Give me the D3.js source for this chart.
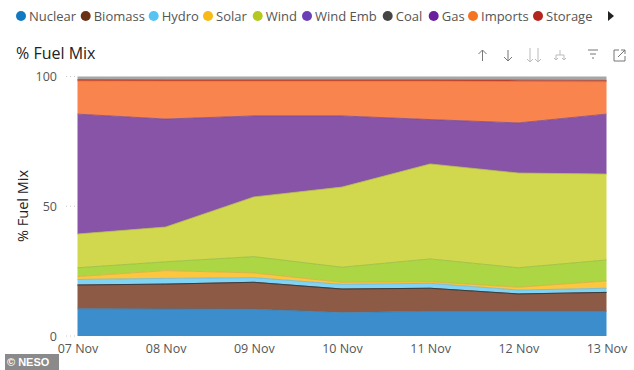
<!DOCTYPE html>
<html>
<head>
<meta charset="utf-8">
<script src="https://cdnjs.cloudflare.com/ajax/libs/d3/7.8.5/d3.min.js"></script>
<style>
  html, body { margin: 0; padding: 0; background: #fff; }
  svg { display: block; }
  text { font-family: "Open Sans", "Noto Sans", sans-serif; }
</style>
</head>
<body>
<svg id="chart"></svg>
<script>
const width = 634;
const height = 370;

const dates = ["07 Nov", "08 Nov", "09 Nov", "10 Nov", "11 Nov", "12 Nov", "13 Nov"];
const yTicks = [0, 50, 100];

// shares, in % of the mix
const nuclear = [10.5, 10.4, 10.3, 9.1, 9.5, 9.5, 9.5];
const biomass = [9.15, 9.6, 10.4, 9.0, 8.9, 6.7, 7.3];
const hydro = [2.15, 2.2, 1.8, 1.8, 1.9, 1.5, 1.6];
const solar = [1.1, 3.0, 1.8, 0.8, 0.6, 1.1, 2.8];
const wind = [3.4, 3.4, 6.3, 5.8, 8.8, 7.5, 8.1];
const windEmb = [13.0, 13.4, 23.0, 30.9, 36.6, 36.5, 33.1];
const coal = [0, 0, 0, 0, 0, 0, 0];
const gas = [46.2, 41.6, 31.2, 27.4, 17.1, 19.3, 23.1];
const imports = [12.8, 14.6, 13.4, 13.4, 14.8, 16.0, 12.5];
const storage = [0.5, 0.5, 0.5, 0.5, 0.5, 0.5, 0.5];
const other = [1.2, 1.3, 1.3, 1.3, 1.3, 1.4, 1.5];

const legendNames = ["Nuclear", "Biomass", "Hydro", "Solar", "Wind", "Wind Emb", "Coal", "Gas", "Imports", "Storage"];
const legendColors = ["#1279c0", "#6b2f14", "#55c4f5", "#f9b916", "#b5c81e", "#6b3fb5", "#454545", "#6a1f9c", "#f47421", "#b3261e"];
const legendX = [21, 85.7, 153.7, 208, 257.7, 307, 387.7, 433.7, 473, 538];

const seriesKeys = ["nuclear", "biomass", "hydro", "solar", "wind", "windEmb", "coal", "gas", "imports", "storage", "other"];
const seriesValues = [nuclear, biomass, hydro, solar, wind, windEmb, coal, gas, imports, storage, other];
const fillColors = ["#3b8ecb", "#8c5a45", "#7fd3f5", "#fcc63f", "#add645", "#d1d84e", "#444444", "#8854a8", "#f9844d", "#c8442e", "#a6a6a6"];

const rows = dates.map((d, i) => {
    const row = { date: d };
    seriesKeys.forEach((k, j) => { row[k] = seriesValues[j][i]; });
    return row;
});

const svg = d3.select("#chart")
    .attr("width", width)
    .attr("height", height)
    .attr("viewBox", `0 0 ${width} ${height}`);

const x = d3.scalePoint().domain(dates).range([77.5, 606.5]);
const y = d3.scaleLinear().domain([0, 100]).range([336, 76.5]);

const stacked = d3.stack().keys(seriesKeys)(rows);

const area = d3.area()
    .x(d => x(d.data.date))
    .y0(d => y(d[0]))
    .y1(d => y(d[1]));

svg.append("g").selectAll("path")
    .data(stacked)
    .enter()
    .append("path")
    .attr("d", area)
    .attr("fill", (d, i) => fillColors[i]);

// darker top edge on the lower layers
const topLine = d3.line()
    .x(d => x(d.data.date))
    .y(d => y(d[1]));

svg.append("g").selectAll("path")
    .data(stacked.filter(s => s.key !== "coal" && s.key !== "other"))
    .enter()
    .append("path")
    .attr("d", topLine)
    .attr("fill", "none")
    .attr("stroke", d => d3.color(fillColors[seriesKeys.indexOf(d.key)]).darker(0.4))
    .attr("stroke-width", 0.8);

// coal sits on zero so it shows only as a thin dark line
svg.append("path")
    .datum(stacked[1])
    .attr("d", topLine)
    .attr("fill", "none")
    .attr("stroke", "#3c3c3c")
    .attr("stroke-width", 1);

// dotted stubs left of the plot at each y tick
svg.append("g").selectAll("line")
    .data(yTicks)
    .enter()
    .append("line")
    .attr("x1", 66)
    .attr("x2", 77)
    .attr("y1", d => y(d))
    .attr("y2", d => y(d))
    .attr("stroke", "#c8c8c8")
    .attr("stroke-width", 1)
    .attr("stroke-dasharray", "1 3");

// legend
const legend = svg.append("g").selectAll("g")
    .data(legendNames)
    .enter()
    .append("g")
    .attr("transform", (d, i) => `translate(${legendX[i]},16)`);

legend.append("circle")
    .attr("r", 5)
    .attr("fill", (d, i) => legendColors[i]);

legend.append("text")
    .attr("x", 8)
    .attr("y", 5)
    .attr("font-size", 13)
    .attr("fill", "#555")
    .text(d => d);

svg.append("path")
    .attr("d", "M608,11 L614,16 L608,21 Z")
    .attr("fill", "#222");

svg.append("text")
    .attr("x", 16)
    .attr("y", 59)
    .attr("font-size", 16)
    .attr("fill", "#222")
    .text("% Fuel Mix");

// axes
const yAxis = svg.append("g")
    .attr("transform", "translate(65,0)")
    .call(d3.axisLeft(y).tickValues(yTicks).tickSize(0).tickPadding(8));
yAxis.select(".domain").remove();
yAxis.selectAll("text")
    .attr("font-size", 12.5)
    .attr("fill", "#555")
    .style("font-family", '"Open Sans", sans-serif');

const xAxis = svg.append("g")
    .attr("transform", "translate(0,339)")
    .call(d3.axisBottom(x).tickSize(0).tickPadding(5));
xAxis.select(".domain").remove();
xAxis.selectAll("text")
    .attr("font-size", 12.5)
    .attr("fill", "#555")
    .style("font-family", '"Open Sans", sans-serif');

svg.append("text")
    .attr("transform", "translate(28,206) rotate(-90)")
    .attr("text-anchor", "middle")
    .attr("font-size", 14.5)
    .attr("fill", "#222")
    .text("% Fuel Mix");

// visual header icons
const icons = svg.append("g")
    .attr("fill", "none")
    .attr("stroke", "#777")
    .attr("stroke-width", 1);
icons.append("path").attr("d", "M482.5,61 V50 M478.5,54 L482.5,50 L486.5,54");
icons.append("path").attr("d", "M508,50 V61 M504,57 L508,61 L512,57");
icons.append("path").attr("d", "M530,48 V62 M527,59 L530,62 L533,59 M538,48 V62 M535,59 L538,62 L541,59").attr("stroke", "#bbb");
icons.append("path").attr("d", "M560,50 V55 M556,60 V55 H564 V60 M554,58 L556,60 L558,58 M562,58 L564,60 L566,58").attr("stroke", "#bbb");
icons.append("path").attr("d", "M588,50 H598 M590,54 H596 M592,58 H594");
icons.append("path").attr("d", "M619,50 H614 V61 H625 V56 M618,57 L625,50 M621,50 H625 V54");

// source badge
svg.append("rect")
    .attr("x", 5)
    .attr("y", 354)
    .attr("width", 54)
    .attr("height", 16)
    .attr("fill", "#8a8a8a");
svg.append("text")
    .attr("x", 7)
    .attr("y", 366)
    .attr("font-size", 11)
    .attr("font-weight", "bold")
    .attr("fill", "#fff")
    .style("font-family", '"Liberation Sans", sans-serif')
    .text("© NESO");
</script>
</body>
</html>
